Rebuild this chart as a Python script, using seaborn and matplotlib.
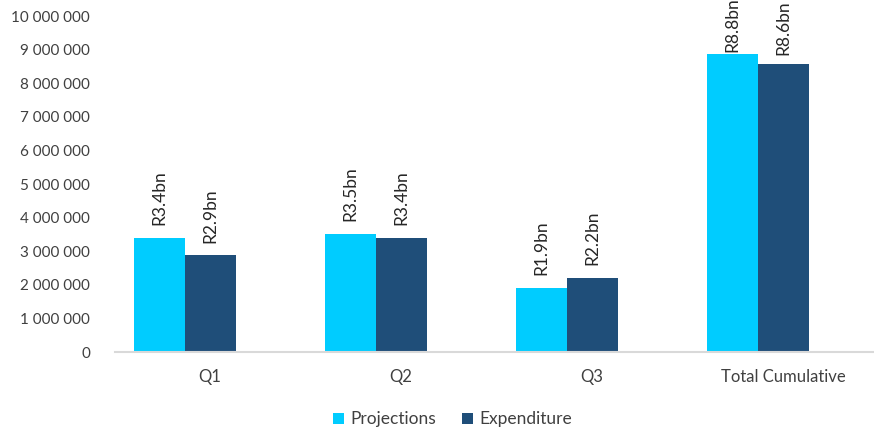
import matplotlib
matplotlib.use("Agg")
from matplotlib import pyplot as plt
from matplotlib.transforms import ScaledTranslation
import pandas as pd
import seaborn as sb

# chart data
quarters = ["Q1", "Q2", "Q3", "Total Cumulative"]
projections = [3400000, 3520000, 1910000, 8870000]
expenditure = [2880000, 3400000, 2210000, 8560000]
proj_labels = ["R3.4bn", "R3.5bn", "R1.9bn", "R8.8bn"]
exp_labels = ["R2.9bn", "R3.4bn", "R2.2bn", "R8.6bn"]
y_ticks = list(range(0, 10000001, 1000000))

df = pd.DataFrame({
    "quarter": quarters * 2,
    "value": projections + expenditure,
    "series": ["Projections"] * 4 + ["Expenditure"] * 4,
})

sb.set_style("white")
plt.rcParams["font.family"] = ["Lato", "DejaVu Sans"]

fig = plt.figure(figsize=(8.74, 4.29), dpi=100)
ax = fig.add_axes([115 / 874, 1 - 352 / 429, 1 - 115 / 874, (352 - 16) / 429])

sb.barplot(data=df, x="quarter", y="value", hue="series",
           palette=["#00CCFF", "#1F4E79"], width=0.534, gap=0,
           saturation=1, linewidth=0, ax=ax)

# value labels above the bars
texts = []
for cont, labs in zip(ax.containers, [proj_labels, exp_labels]):
    texts += ax.bar_label(cont, labels=labs, rotation=90, padding=9,
                          fontsize=12.5, color="#262626")

ax.set_ylim(0, 10000000)
ax.set_xlim(-0.366, 3.607)
ax.set_yticks(y_ticks)
ax.set_yticklabels([f"{t:,}".replace(",", " ") for t in y_ticks])
ax.tick_params(axis="y", labelsize=11, labelcolor="#404040", length=0, pad=18)
ax.tick_params(axis="x", labelsize=12, labelcolor="#404040", length=0, pad=12)
ax.set_xlabel("")
ax.set_ylabel("")

# category labels sit a bit right of the bar groups
shift = ScaledTranslation(0.25, 0, fig.dpi_scale_trans)
for lab in ax.get_xticklabels():
    lab.set_transform(lab.get_transform() + shift)

for s in ["top", "right", "left"]:
    ax.spines[s].set_visible(False)
ax.spines["bottom"].set_color("#D9D9D9")
ax.spines["bottom"].set_linewidth(1.5)

ax.legend(loc="center", bbox_to_anchor=(0.445, -0.2), ncol=2, frameon=False,
          fontsize=12.5, handlelength=0.6, handleheight=0.6, handletextpad=0.4,
          columnspacing=1.5, labelcolor="#404040")

# push labels down if they run past the top of the figure (like Excel does),
# but never onto the bar itself
fig.canvas.draw()
renderer = fig.canvas.get_renderer()
fig_h = fig.bbox.height
for t in texts:
    ext = t.get_window_extent(renderer)
    over = ext.y1 - fig_h
    if over > 0:
        dx, dy = t.xyann
        t.xyann = (dx, max(dy - over * 72 / fig.dpi, 1.5))

fig.savefig("out.png", dpi=100)
